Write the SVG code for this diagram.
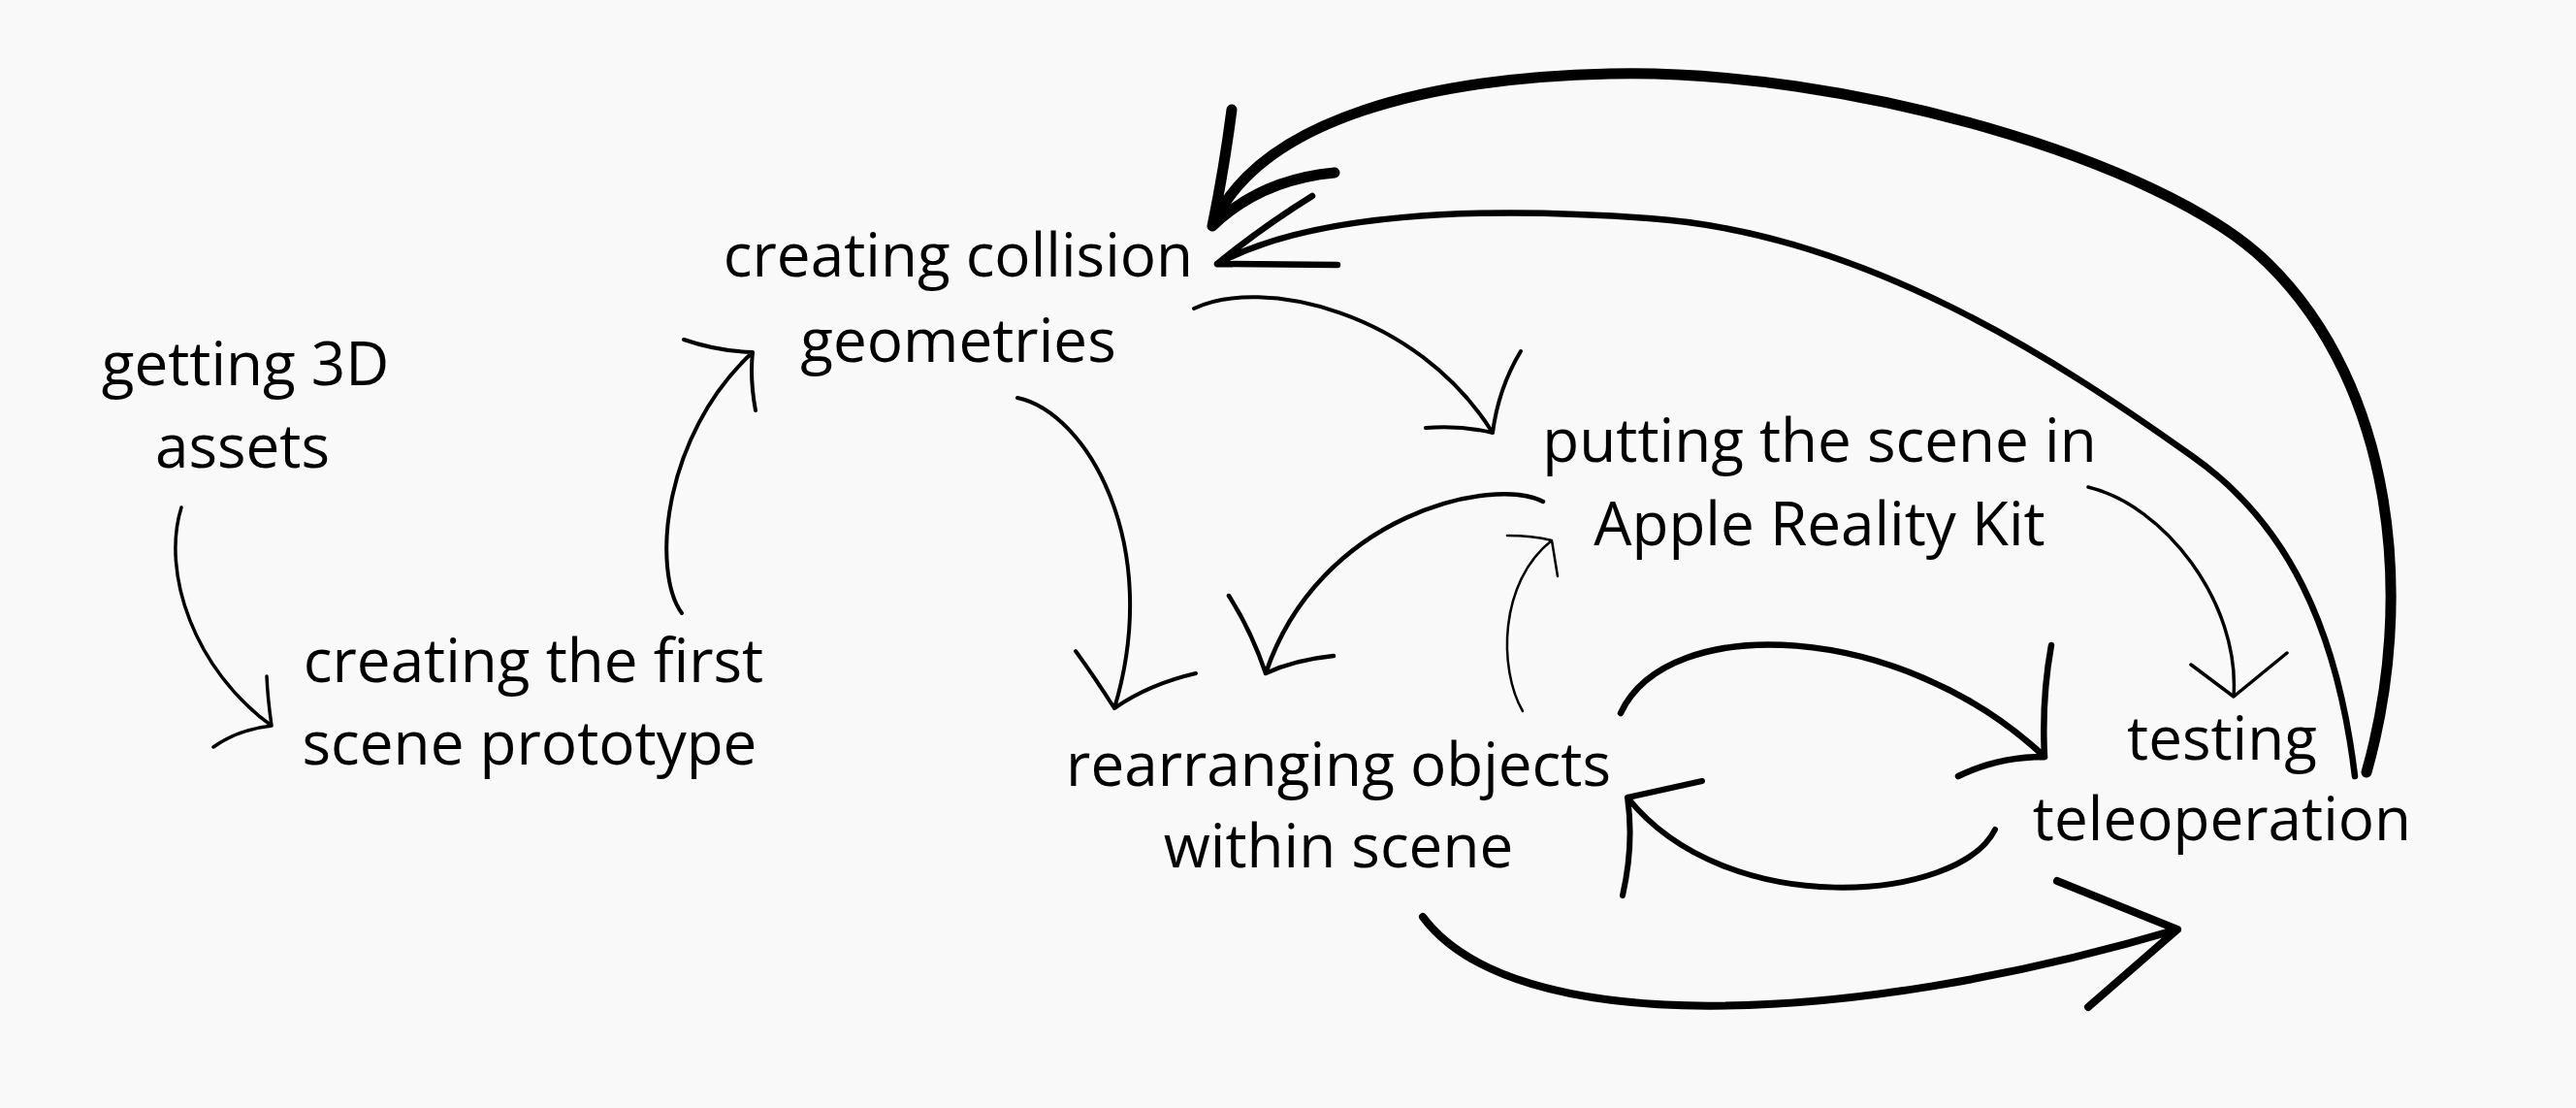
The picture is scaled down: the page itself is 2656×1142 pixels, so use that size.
<svg xmlns="http://www.w3.org/2000/svg" width="2656" height="1142" viewBox="0 0 2656 1142">
<style>
.t{font-family:"Open Sans","Noto Sans",sans-serif;font-size:62px;fill:#000;text-anchor:middle}
.c path{fill:none;stroke:#000;stroke-linecap:round;stroke-linejoin:round}
</style>
<rect width="2656" height="1142" fill="#f9f9f9"/>
<g id="n-assets"><text class="t" x="253" y="397">getting 3D</text><text class="t" x="250" y="482">assets</text></g>
<g id="n-prototype"><text class="t" x="550" y="703">creating the first</text><text class="t" x="546" y="788">scene prototype</text></g>
<g id="n-collision"><text class="t" x="988" y="285">creating collision</text><text class="t" x="988" y="373">geometries</text></g>
<g id="n-reality"><text class="t" x="1876" y="476">putting the scene in</text><text class="t" x="1876" y="562">Apple Reality Kit</text></g>
<g id="n-rearrange"><text class="t" x="1380" y="810">rearranging objects</text><text class="t" x="1380" y="894">within scene</text></g>
<g id="n-testing"><text class="t" x="2291" y="783">testing</text><text class="t" x="2291" y="866">teleoperation</text></g>
<g class="c" id="connectors">
<path stroke-width="3.5" d="M187,523 C166,590 200,690 280,748 M275,697 Q276,720 280,748 M220,770 Q245,752 280,748"/>
<path stroke-width="4" d="M703,632 C672,590 682,450 776,363 M705,350 Q740,362 776,363 M776,363 Q773,390 779,423"/>
<path stroke-width="4" d="M1049,410 C1120,425 1200,560 1149,730 M1109,671 Q1128,697 1149,730 M1233,694 Q1185,705 1149,730"/>
<path stroke-width="4.5" d="M1591,517 C1540,490 1360,530 1305,694 M1267,614 Q1290,650 1305,694 M1375,676 Q1335,680 1305,694"/>
<path stroke-width="2.5" d="M1570,733 C1545,690 1545,600 1600,557 M1554,552 Q1580,552 1600,557 L1606,594"/>
<path stroke-width="4" d="M1231,318 C1300,285 1460,320 1539,446 M1470,441 Q1505,438 1539,446 M1539,446 Q1545,400 1568,362"/>
<path stroke-width="3.5" d="M2153,502 C2230,520 2310,620 2303,718 M2259,685 L2303,718 L2358,673"/>
<path stroke-width="6.5" d="M1671,735 C1720,630 1960,640 2108,780 M2115,665 Q2105,720 2108,780 M2019,800 Q2060,780 2108,780"/>
<path stroke-width="6" d="M2057,855 C2020,930 1780,950 1678,822 M1755,805 Q1710,815 1678,822 M1678,822 Q1685,870 1673,923"/>
<path stroke-width="8" d="M1467,945 C1560,1070 1900,1060 2245,958 M2121,908 L2245,958 L2153,1038"/>
<path stroke-width="11" d="M2440,796 C2490,620 2470,400 2338,271 C2230,165 1900,70 1660,76 C1480,80 1300,120 1250,233 M1270,113 Q1262,175 1250,233 M1376,178 Q1300,185 1250,233"/>
<path stroke-width="6.5" stroke="#1a1a1a" d="M2428,800 C2410,650 2360,540 2260,470 C2120,370 1920,240 1700,225 C1520,212 1350,220 1255,272 M1353,202 Q1300,235 1255,272 M1379,273 L1255,272"/>
</g>
</svg>
